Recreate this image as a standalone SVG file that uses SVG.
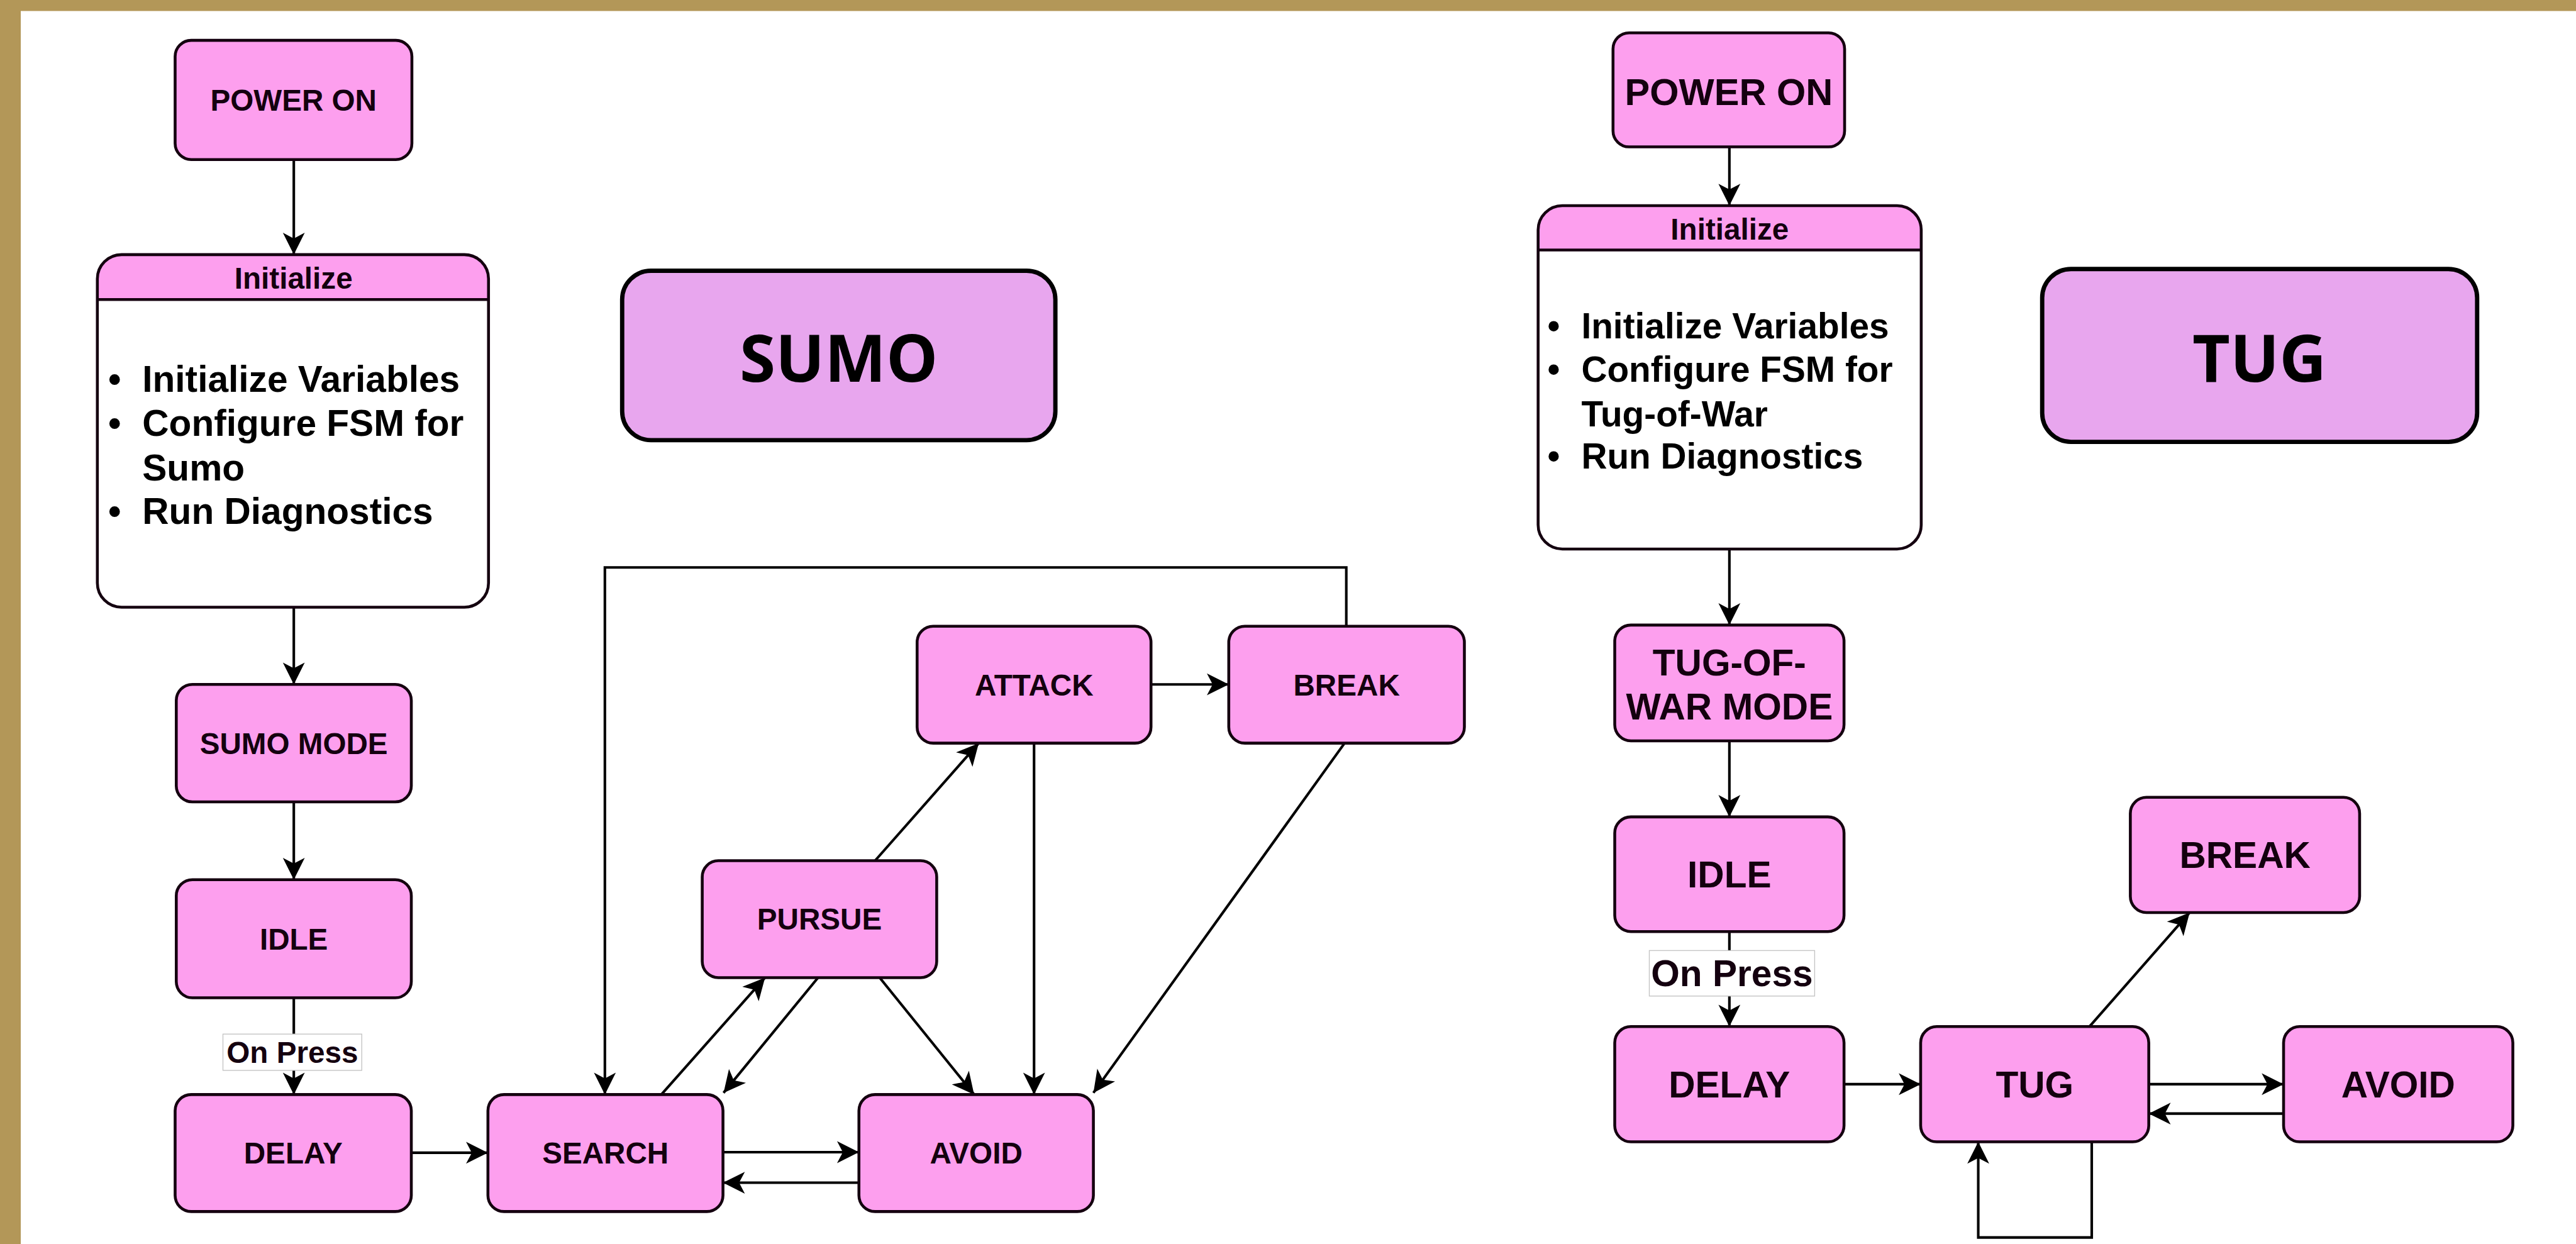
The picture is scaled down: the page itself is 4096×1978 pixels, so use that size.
<svg xmlns="http://www.w3.org/2000/svg" width="4096" height="1978" viewBox="0 0 4096 1978">
<defs>
<style>
.node{fill:#FD9FEE;stroke:#14000f;stroke-width:5}
.title{fill:#E8A6EE;stroke:#000;stroke-width:7.5}
.t{font-family:"Liberation Sans",Arial,sans-serif;font-weight:bold;fill:#14000f;text-anchor:middle}
.s{font-size:52px}
.l{font-size:64px}
.b{font-family:"Liberation Sans",Arial,sans-serif;font-weight:bold;fill:#000}
.tt{font-family:"Open Sans","Noto Sans",sans-serif;font-weight:bold;font-size:113px;fill:#000;text-anchor:middle}
.c{fill:none;stroke:#000;stroke-width:4.5}
.lbl{fill:#fff;stroke:#c4c4c4;stroke-width:1.5}
</style>
<marker id="arr" markerUnits="userSpaceOnUse" viewBox="-40 -21 42 42" refX="0" refY="0" markerWidth="42" markerHeight="42" orient="auto">
<path d="M0,0 L-38,-19 L-28,0 L-38,19 Z" fill="#000"/>
</marker>
</defs>
<rect x="0" y="0" width="4096" height="1978" fill="#fff"/>
<rect x="0" y="0" width="4096" height="17.5" fill="#B39758"/>
<rect x="0" y="0" width="33" height="1978" fill="#B39758"/>
<g transform="scale(0.916)">
<g id="connectors">
<path class="c" marker-end="url(#arr)" d="M510,277 L510,442"/>
<path class="c" marker-end="url(#arr)" d="M510,1054 L510,1188"/>
<path class="c" marker-end="url(#arr)" d="M510,1392 L510,1527"/>
<path class="c" marker-end="url(#arr)" d="M510,1732 L510,1900"/>
<path class="c" marker-end="url(#arr)" d="M714,2001 L847,2001"/>
<path class="c" marker-end="url(#arr)" d="M1255,2000 L1491,2000"/>
<path class="c" marker-end="url(#arr)" d="M1491,2053 L1255,2053"/>
<path class="c" marker-end="url(#arr)" d="M1148,1900 L1328,1697"/>
<path class="c" marker-end="url(#arr)" d="M1420,1697 L1256,1897"/>
<path class="c" marker-end="url(#arr)" d="M1527,1697 L1691,1900"/>
<path class="c" marker-end="url(#arr)" d="M1519,1494 L1699,1290"/>
<path class="c" marker-end="url(#arr)" d="M1795,1290 L1795,1900"/>
<path class="c" marker-end="url(#arr)" d="M1998,1188 L2133,1188"/>
<path class="c" marker-end="url(#arr)" d="M2337,1087 L2337,985 L1050,985 L1050,1900"/>
<path class="c" marker-end="url(#arr)" d="M2334,1290 L1898,1897"/>
<path class="c" marker-end="url(#arr)" d="M3002,255 L3002,357"/>
<path class="c" marker-end="url(#arr)" d="M3002,953 L3002,1085"/>
<path class="c" marker-end="url(#arr)" d="M3002,1286 L3002,1418"/>
<path class="c" marker-end="url(#arr)" d="M3002,1617 L3002,1782"/>
<path class="c" marker-end="url(#arr)" d="M3201,1882 L3334,1882"/>
<path class="c" marker-end="url(#arr)" d="M3730,1882 L3964,1882"/>
<path class="c" marker-end="url(#arr)" d="M3964,1933 L3730,1933"/>
<path class="c" marker-end="url(#arr)" d="M3627,1782 L3801,1584"/>
<path class="c" marker-end="url(#arr)" d="M3631,1982 L3631,2148 L3434,2148 L3434,1982"/>
<rect class="lbl" x="387" y="1795" width="241" height="63"/>
<text class="t s" x="507.5" y="1845">On Press</text>
<rect class="lbl" x="2863" y="1650" width="287" height="79"/>
<text class="t l" x="3006.5" y="1712">On Press</text>
</g>
<g id="sumo-power-on"><rect class="node" x="304" y="70" width="411" height="207" rx="28"/><text class="t s" x="509.5" y="192">POWER ON</text></g>
<g id="sumo-initialize">
<rect x="169" y="442" width="679" height="612" rx="42" fill="#fff"/>
<path d="M169,520 L169,484 A42,42 0 0 1 211,442 L806,442 A42,42 0 0 1 848,484 L848,520 Z" fill="#FD9FEE"/>
<line x1="169" y1="520" x2="848" y2="520" stroke="#14000f" stroke-width="5"/>
<rect x="169" y="442" width="679" height="612" rx="42" fill="none" stroke="#14000f" stroke-width="5"/>
<text class="t s" x="509.5" y="501">Initialize</text>
<text class="b" font-size="64" x="199" y="680" text-anchor="middle">•</text>
<text class="b" font-size="64" x="247" y="680">Initialize Variables</text>
<text class="b" font-size="64" x="199" y="757" text-anchor="middle">•</text>
<text class="b" font-size="64" x="247" y="757">Configure FSM for</text>
<text class="b" font-size="64" x="247" y="834">Sumo</text>
<text class="b" font-size="64" x="199" y="909" text-anchor="middle">•</text>
<text class="b" font-size="64" x="247" y="909">Run Diagnostics</text>
</g>
<g id="sumo-title"><rect class="title" x="1080" y="470" width="752" height="294" rx="50"/><text class="tt" x="1456" y="663">SUMO</text></g>
<g id="sumo-mode"><rect class="node" x="306" y="1188" width="408" height="204" rx="28"/><text class="t s" x="510" y="1309">SUMO MODE</text></g>
<g id="sumo-idle"><rect class="node" x="306" y="1527" width="408" height="205" rx="28"/><text class="t s" x="510" y="1648">IDLE</text></g>
<g id="sumo-delay"><rect class="node" x="304" y="1900" width="410" height="203" rx="28"/><text class="t s" x="509" y="2020">DELAY</text></g>
<g id="sumo-search"><rect class="node" x="847" y="1900" width="408" height="203" rx="28"/><text class="t s" x="1051" y="2020">SEARCH</text></g>
<g id="sumo-avoid"><rect class="node" x="1491" y="1900" width="407" height="203" rx="28"/><text class="t s" x="1694.5" y="2020">AVOID</text></g>
<g id="sumo-pursue"><rect class="node" x="1219" y="1494" width="407" height="203" rx="28"/><text class="t s" x="1422.5" y="1614">PURSUE</text></g>
<g id="sumo-attack"><rect class="node" x="1592" y="1087" width="406" height="203" rx="28"/><text class="t s" x="1795" y="1207">ATTACK</text></g>
<g id="sumo-break"><rect class="node" x="2133" y="1087" width="409" height="203" rx="28"/><text class="t s" x="2337.5" y="1207">BREAK</text></g>
<g id="tug-power-on"><rect class="node" x="2800" y="57" width="402" height="198" rx="28"/><text class="t" font-size="65" x="3001" y="182">POWER ON</text></g>
<g id="tug-initialize">
<rect x="2670" y="357" width="665" height="596" rx="42" fill="#fff"/>
<path d="M2670,434 L2670,399 A42,42 0 0 1 2712,357 L3293,357 A42,42 0 0 1 3335,399 L3335,434 Z" fill="#FD9FEE"/>
<line x1="2670" y1="434" x2="3335" y2="434" stroke="#14000f" stroke-width="5"/>
<rect x="2670" y="357" width="665" height="596" rx="42" fill="none" stroke="#14000f" stroke-width="5"/>
<text class="t s" x="3002.5" y="416">Initialize</text>
<text class="b" font-size="62" x="2697" y="587" text-anchor="middle">•</text>
<text class="b" font-size="62" x="2745" y="587">Initialize Variables</text>
<text class="b" font-size="62" x="2697" y="663" text-anchor="middle">•</text>
<text class="b" font-size="62" x="2745" y="663">Configure FSM for</text>
<text class="b" font-size="62" x="2745" y="740">Tug-of-War</text>
<text class="b" font-size="62" x="2697" y="813" text-anchor="middle">•</text>
<text class="b" font-size="62" x="2745" y="813">Run Diagnostics</text>
</g>
<g id="tug-title"><rect class="title" x="3545" y="467" width="755" height="300" rx="50"/><text class="tt" x="3922" y="663">TUG</text></g>
<g id="tug-of-war-mode"><rect class="node" x="2803" y="1085" width="398" height="201" rx="28"/><text class="t l" x="3002" y="1172">TUG-OF-</text><text class="t l" x="3002" y="1249">WAR MODE</text></g>
<g id="tug-idle"><rect class="node" x="2803" y="1418" width="398" height="199" rx="28"/><text class="t l" x="3002" y="1540">IDLE</text></g>
<g id="tug-delay"><rect class="node" x="2803" y="1782" width="398" height="200" rx="28"/><text class="t l" x="3002" y="1905">DELAY</text></g>
<g id="tug-tug"><rect class="node" x="3334" y="1782" width="396" height="200" rx="28"/><text class="t l" x="3532" y="1905">TUG</text></g>
<g id="tug-avoid"><rect class="node" x="3964" y="1782" width="398" height="200" rx="28"/><text class="t l" x="4163" y="1905">AVOID</text></g>
<g id="tug-break"><rect class="node" x="3698" y="1384" width="398" height="200" rx="28"/><text class="t l" x="3897" y="1507">BREAK</text></g>
</g>
</svg>
